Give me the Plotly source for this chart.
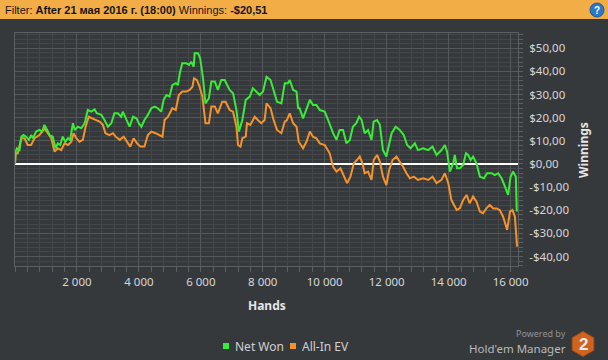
import math
import plotly.graph_objects as go

# ---------------- data ----------------
net_won_hands = [0, 20, 60, 145, 210, 275, 360, 450, 520, 575, 685, 790, 880, 950, 1040, 1115, 1220, 1310, 1380, 1460,
                 1540, 1630, 1710, 1780, 1870, 1930, 2030, 2140, 2250, 2350, 2460, 2570, 2640, 2790, 2890, 3000, 3110, 3210, 3320, 3430,
                 3480, 3590, 3700, 3810, 3920, 4000, 4080, 4180, 4290, 4400, 4510, 4610, 4720, 4800, 4890, 4990, 5080, 5190, 5260, 5320,
                 5400, 5530, 5620, 5690, 5770, 5800, 5910, 5980, 6070, 6150, 6260, 6340, 6450, 6550, 6660, 6770, 6930, 7040, 7150, 7230,
                 7340, 7450, 7580, 7680, 7790, 7900, 8010, 8120, 8250, 8350, 8460, 8600, 8710, 8810, 8870, 8980, 9090, 9140, 9190, 9300,
                 9410, 9520, 9620, 9730, 9840, 10000, 10110, 10270, 10380, 10480, 10590, 10700, 10810, 10910, 11020, 11110, 11190, 11290, 11400, 11510,
                 11580, 11690, 11780, 11880, 11990, 12080, 12160, 12290, 12420, 12550, 12660, 12770, 12910, 13010, 13180, 13340, 13480, 13610, 13770, 13880,
                 13950, 14040, 14150, 14200, 14270, 14360, 14470, 14560, 14630, 14710, 14790, 14900, 15010, 15140, 15240, 15390, 15490, 15600, 15710, 15820,
                 15920, 16000, 16080, 16170, 16200]
net_won = [0, 5.3, 6.8, 6.0, 11.8, 12.5, 11.8, 10.4, 12.5, 11.1, 14.0, 14.7, 14.0, 16.9, 14.7, 12.5, 11.8, 6.8, 8.9, 8.2,
           11.8, 9.6, 11.1, 10.4, 17.6, 14.7, 16.1, 15.4, 17.6, 23.3, 22.6, 23.6, 21.9, 21.2, 19.0, 16.1, 17.6, 21.9, 21.9, 20.4,
           22.6, 19.0, 16.1, 20.4, 19.7, 17.6, 16.1, 19.0, 21.2, 24.1, 24.8, 24.1, 22.6, 27.7, 29.8, 29.1, 34.1, 34.9, 34.1, 39.2,
           43.5, 43.5, 42.8, 44.2, 42.0, 47.8, 47.8, 45.6, 37.0, 26.2, 28.4, 35.6, 35.6, 32.0, 36.3, 36.3, 32.0, 30.6, 23.3, 14.0,
           19.0, 27.7, 29.1, 32.7, 31.3, 29.8, 31.3, 37.7, 36.3, 31.3, 26.9, 26.2, 34.9, 34.9, 36.3, 32.0, 31.3, 24.1, 24.1, 19.7,
           23.3, 27.7, 25.5, 25.5, 23.3, 22.6, 19.0, 13.3, 10.4, 14.7, 14.7, 8.9, 10.4, 16.1, 17.6, 20.4, 19.0, 13.3, 14.7, 10.4,
           18.3, 19.0, 16.9, 6.0, 3.2, 8.9, 13.3, 16.1, 14.7, 12.5, 8.2, 6.8, 8.9, 6.0, 6.8, 6.0, 7.5, 3.9, 6.0, 8.2,
           5.3, -3.3, 0.3, 3.9, -1.9, -1.9, -0.4, 4.6, 3.9, 1.7, 3.2, 0.3, -5.5, -6.2, -4.0, -4.0, -4.8, -4.0, -6.2, -9.8,
           -13.4, -5.5, -3.3, -5.5, -20.51]

allin_hands = [0, 20, 90, 200, 310, 410, 520, 630, 790, 950, 1060, 1170, 1280, 1380, 1490, 1600, 1710, 1820, 1890, 1980,
               2080, 2190, 2280, 2380, 2490, 2600, 2730, 2840, 2920, 3050, 3160, 3250, 3380, 3510, 3640, 3720, 3830, 3940, 4050, 4180,
               4290, 4400, 4540, 4650, 4760, 4830, 4940, 5080, 5190, 5290, 5400, 5530, 5640, 5730, 5780, 5870, 5960, 6050, 6150, 6260,
               6340, 6450, 6550, 6690, 6800, 6930, 7040, 7150, 7200, 7280, 7340, 7450, 7490, 7600, 7740, 7840, 7950, 8060, 8120, 8250,
               8350, 8460, 8600, 8710, 8780, 8870, 8980, 9090, 9160, 9300, 9410, 9520, 9620, 9730, 9840, 10000, 10160, 10270, 10380, 10510,
               10610, 10720, 10830, 10940, 11040, 11130, 11220, 11290, 11400, 11510, 11580, 11690, 11780, 11880, 11990, 12080, 12190, 12320, 12420, 12530,
               12640, 12750, 12880, 13010, 13180, 13340, 13480, 13610, 13770, 13880, 13990, 14060, 14090, 14260, 14360, 14470, 14580, 14680, 14790, 14900,
               15010, 15110, 15220, 15330, 15440, 15550, 15650, 15760, 15890, 15980, 16060, 16140, 16210]
allin_ev = [0, 4.6, 4.6, 11.1, 11.1, 8.2, 8.2, 11.1, 12.5, 15.4, 13.3, 11.1, 5.3, 6.8, 6.0, 8.9, 8.2, 9.6, 13.3, 11.1,
            9.6, 10.4, 16.1, 20.4, 19.7, 19.0, 18.3, 16.9, 13.3, 12.5, 13.3, 11.8, 10.4, 11.8, 8.9, 7.5, 11.1, 8.9, 7.5, 7.5,
            12.5, 14.0, 13.3, 12.5, 11.8, 19.0, 20.4, 24.1, 23.3, 29.8, 31.3, 31.3, 32.0, 33.4, 37.0, 36.3, 33.4, 29.1, 17.6, 17.6,
            24.8, 24.8, 21.9, 26.9, 26.9, 23.3, 22.6, 16.1, 8.2, 7.5, 11.1, 11.8, 17.6, 16.9, 20.4, 19.0, 17.6, 19.0, 26.2, 24.1,
            19.0, 14.7, 13.3, 18.3, 19.0, 21.9, 17.6, 16.1, 9.6, 6.8, 9.6, 14.0, 11.8, 11.1, 8.9, 8.2, 4.6, -1.2, -3.3, -1.9,
            -4.8, -8.3, -5.5, 0.3, 1.7, 3.2, 0.3, -4.0, -3.3, -6.9, 1.7, 3.9, 1.0, -5.5, -9.1, -2.6, 1.7, 3.2, 1.0, -1.2,
            -4.0, -6.2, -5.5, -6.9, -6.2, -6.9, -5.5, -8.3, -6.9, -4.0, -8.3, -13.4, -15.6, -19.9, -19.2, -15.6, -13.4, -17.0, -14.1, -16.3,
            -20.6, -21.3, -19.2, -17.7, -19.2, -19.2, -19.9, -22.8, -28.5, -20.6, -19.9, -22.8, -35.7]

x_tick_vals = [2000, 4000, 6000, 8000, 10000, 12000, 14000, 16000]
x_tick_text = ["2 000", "4 000", "6 000", "8 000", "10 000", "12 000", "14 000", "16 000"]
y_tick_vals = [-40, -30, -20, -10, 0, 10, 20, 30, 40, 50]
y_tick_text = ["-$40,00", "-$30,00", "-$20,00", "-$10,00", "$0,00", "$10,00", "$20,00", "$30,00", "$40,00", "$50,00"]
series_names = ["Net Won", "All-In EV"]
header_filter = "After 21 мая 2016 г. (18:00)"
header_winnings = "-$20,51"

# ---------------- styling / layout ----------------
W_FIG, H_FIG = 608, 360
L, T, W, H = 15, 33, 503, 233          # plot area in pixels
BG = "#36393c"
GREEN = "#38ec38"
ORANGE = "#f5922a"
FONT = "Noto Sans"


def px(x):
    return (x - L) / W


def py(y):
    return (T + H - y) / H


fig = go.Figure()
fig.add_trace(go.Scatter(x=allin_hands, y=allin_ev, mode="lines", name=series_names[1],
                         line=dict(color=ORANGE, width=2), showlegend=False))
fig.add_trace(go.Scatter(x=net_won_hands, y=net_won, mode="lines", name=series_names[0],
                         line=dict(color=GREEN, width=2), showlegend=False))

shapes = []
annotations = []

# header bar
shapes.append(dict(type="rect", xref="paper", yref="paper", x0=px(0), x1=px(W_FIG), y0=py(19), y1=py(0),
                   fillcolor="#f2ad46", line=dict(width=0), layer="below"))
annotations.append(dict(xref="paper", yref="paper", x=px(3), y=py(10), xanchor="left", yanchor="middle",
                        text=f"Filter: <b>{header_filter}</b> Winnings: <b>{header_winnings}</b>",
                        showarrow=False, font=dict(family="Liberation Sans", size=11, color="#151515")))
# help icon
shapes.append(dict(type="circle", xref="paper", yref="paper", x0=px(590), x1=px(604), y0=py(17), y1=py(3),
                   fillcolor="#2b78c9", line=dict(color="#1d5a9a", width=1)))
annotations.append(dict(xref="paper", yref="paper", x=px(597), y=py(10), xanchor="center", yanchor="middle",
                        text="<b>?</b>", showarrow=False, font=dict(family="Liberation Sans", size=10, color="white")))

# axis titles
annotations.append(dict(xref="paper", yref="paper", x=px(267), y=py(305), xanchor="center", yanchor="middle",
                        text="<b>Hands</b>", showarrow=False, font=dict(family=FONT, size=12, color="#e6e6e6")))
annotations.append(dict(xref="paper", yref="paper", x=px(583), y=py(150), xanchor="center", yanchor="middle",
                        text="<b>Winnings</b>", textangle=-90, showarrow=False,
                        font=dict(family=FONT, size=12, color="#e6e6e6")))

# legend
for (x0, color, name) in [(223, GREEN, series_names[0]), (290, ORANGE, series_names[1])]:
    shapes.append(dict(type="rect", xref="paper", yref="paper", x0=px(x0), x1=px(x0 + 6), y0=py(349), y1=py(343),
                       fillcolor=color, line=dict(width=0)))
    annotations.append(dict(xref="paper", yref="paper", x=px(x0 + 10), y=py(346), xanchor="left", yanchor="middle",
                            text=name, showarrow=False, font=dict(family=FONT, size=12, color="#cfd0d1")))

# branding
annotations.append(dict(xref="paper", yref="paper", x=px(567), y=py(333), xanchor="right", yanchor="middle",
                        text="Powered by", showarrow=False, borderpad=0,
                        font=dict(family=FONT, size=9, color="#8f9194")))
annotations.append(dict(xref="paper", yref="paper", x=px(567), y=py(348), xanchor="right", yanchor="middle",
                        text="Hold'em Manager", showarrow=False, borderpad=0,
                        font=dict(family=FONT, size=11.5, color="#b8babc")))
cx, cy, r = 583, 344, 12.5
pts = []
for k in range(6):
    a = math.radians(90 + 60 * k)
    pts.append((px(cx + r * math.cos(a)), py(cy - r * math.sin(a))))
path = "M " + " L ".join(f"{a:.5f},{b:.5f}" for a, b in pts) + " Z"
shapes.append(dict(type="path", xref="paper", yref="paper", path=path, fillcolor="#cf6420",
                   line=dict(color="#a84e18", width=1)))
annotations.append(dict(xref="paper", yref="paper", x=px(cx), y=py(cy), xanchor="center", yanchor="middle",
                        text="<b>2</b>", showarrow=False, font=dict(family="Liberation Sans", size=17, color="#ececec")))

GRID = "#55585b"
MINOR = "#444749"
AXLINE = "#5c5f62"

fig.update_layout(
    width=W_FIG, height=H_FIG,
    margin=dict(l=L, r=W_FIG - L - W, t=T, b=H_FIG - T - H, pad=0),
    paper_bgcolor=BG, plot_bgcolor=BG,
    shapes=shapes, annotations=annotations,
    font=dict(family=FONT, size=11, color="#d6d6d6"),
    xaxis=dict(range=[0, 16240], tickmode="array", tickvals=x_tick_vals, ticktext=x_tick_text,
               showgrid=True, gridcolor=GRID, gridwidth=1, zeroline=False,
               showline=True, linecolor=AXLINE, linewidth=1, mirror=True,
               ticks="outside", ticklen=5, tickcolor=AXLINE,
               tickfont=dict(family=FONT, size=11.5, color="#d6d6d6"),
               minor=dict(tickmode="linear", tick0=0, dtick=400, showgrid=True, gridcolor=MINOR,
                          ticks="outside", ticklen=5, tickcolor=AXLINE)),
    yaxis=dict(range=[-44.1, 56.6], side="right", tickmode="array", tickvals=y_tick_vals, ticktext=y_tick_text,
               showgrid=True, gridcolor=GRID, gridwidth=1,
               zeroline=True, zerolinecolor="white", zerolinewidth=2,
               showline=True, linecolor=AXLINE, linewidth=1, mirror=True,
               ticks="outside", ticklen=4, tickcolor=AXLINE, ticklabelstandoff=4,
               tickfont=dict(family=FONT, size=11.5, color="#d6d6d6"),
               minor=dict(tickmode="linear", tick0=0, dtick=2, showgrid=True, gridcolor=MINOR,
                          ticks="outside", ticklen=4, tickcolor=AXLINE)),
)

fig.write_html("out.html", config={"displayModeBar": False},
               post_script="document.body.style.margin='0';document.body.style.background='" + BG + "';")
